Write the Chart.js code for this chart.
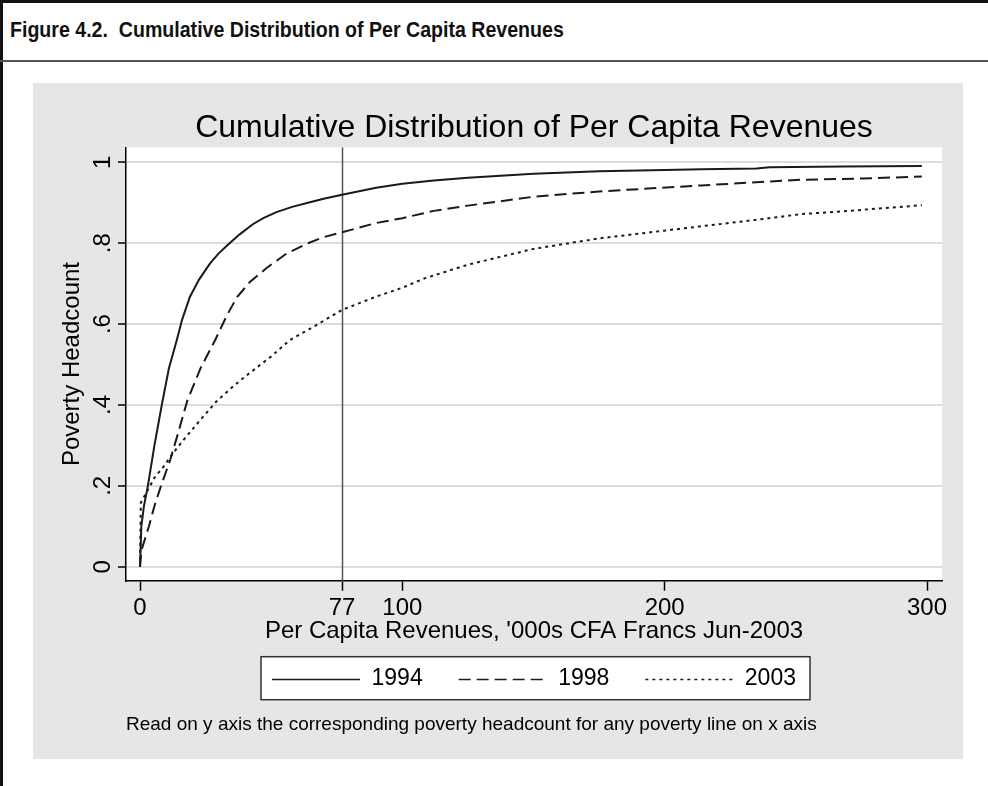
<!DOCTYPE html>
<html>
<head>
<meta charset="utf-8">
<title>Figure 4.2</title>
<script src="https://cdn.jsdelivr.net/npm/chart.js@4.4.0/dist/chart.umd.min.js"></script>
<style>
  html, body { margin: 0; padding: 0; background: #fff; }
  body { position: relative; width: 988px; height: 786px; overflow: hidden; }
  .edge-top { position: absolute; left: 0; top: 0; width: 988px; height: 3px; background: #111; }
  .edge-left { position: absolute; left: 0; top: 0; width: 3px; height: 786px; background: #111; }
  .fig-title {
    position: absolute; left: 10px; top: 17px; margin: 0;
    font-family: "Liberation Sans", Arial, sans-serif;
    font-weight: bold; font-size: 22px; line-height: 26px; color: #111;
    white-space: pre; transform: scaleX(0.89); transform-origin: 0 50%;
  }
  .fig-rule { position: absolute; left: 0; top: 60px; width: 988px; height: 2px; background: #555; }
  .panel { position: absolute; left: 33px; top: 83px; width: 930px; height: 676px; background: #e5e6e8; }
  .panel canvas { display: block; }
</style>
</head>
<body>
<div class="edge-top"></div>
<div class="edge-left"></div>
<h1 class="fig-title">Figure 4.2.  Cumulative Distribution of Per Capita Revenues</h1>
<div class="fig-rule"></div>
<div class="panel"><canvas id="cdf" width="930" height="676"></canvas></div>

<script>
// per capita revenues, '000s CFA francs (Jun-2003 prices)
const x1994 = [0, 0.5, 1.5, 3, 5.5, 8.3, 11, 14, 16, 19, 22.5, 26.7, 30, 33.6, 38, 43, 47, 52, 58, 64, 70, 77, 90, 100, 112, 125, 150, 175, 200, 214, 235, 240, 268, 298];
const y1994 = [0, 0.1, 0.15, 0.2, 0.3, 0.4, 0.49, 0.56, 0.61, 0.667, 0.71, 0.75, 0.775, 0.797, 0.822, 0.847, 0.862, 0.877, 0.89, 0.9, 0.91, 0.92, 0.937, 0.947, 0.955, 0.962, 0.972, 0.978, 0.981, 0.983, 0.985, 0.988, 0.99, 0.991];

const x1998 = [0, 0.5, 3.4, 5.5, 8, 11.5, 14.5, 18, 23, 28.6, 33, 37, 42, 48.5, 56, 64, 70, 77, 90, 100, 112, 125, 150, 175, 188, 214, 252, 275, 298];
const y1998 = [0, 0.04, 0.1, 0.15, 0.2, 0.264, 0.33, 0.41, 0.49, 0.56, 0.62, 0.667, 0.705, 0.74, 0.775, 0.8, 0.815, 0.827, 0.85, 0.862, 0.88, 0.893, 0.915, 0.928, 0.933, 0.943, 0.957, 0.96, 0.965];

const x2003 = [0, 0.3, 3, 5.5, 8.9, 12.5, 16.5, 23, 29, 35, 40, 50, 57, 66, 77, 90, 100, 108, 125, 150, 175, 201, 214, 235, 252, 268, 298];
const y2003 = [0, 0.158, 0.19, 0.22, 0.247, 0.28, 0.313, 0.363, 0.408, 0.443, 0.47, 0.52, 0.56, 0.593, 0.635, 0.668, 0.69, 0.712, 0.747, 0.786, 0.812, 0.832, 0.842, 0.858, 0.872, 0.879, 0.894];

const seriesNames = ['1994', '1998', '2003'];
const povertyLine = 77;

const xTickValues = [0, 77, 100, 200, 300];
const yTickValues = [0, 0.2, 0.4, 0.6, 0.8, 1];
const yTickLabels = ['0', '.2', '.4', '.6', '.8', '1'];

const chartTitle = 'Cumulative Distribution of Per Capita Revenues';
const xTitle = "Per Capita Revenues, '000s CFA Francs Jun-2003";
const yTitle = 'Poverty Headcount';
const noteText = 'Read on y axis the corresponding poverty headcount for any poverty line on x axis';

const toPoints = (xs, ys) => xs.map((x, i) => ({x: x, y: ys[i]}));

const FONT = '"Liberation Sans", Arial, Helvetica, sans-serif';
const INK = '#1a1a1a';
const SAMPLE_W = 88;

// white plot region + white legend box, Stata style
const plotBackground = {
  id: 'plotBackground',
  beforeDraw(chart) {
    const {ctx, chartArea: a, legend} = chart;
    ctx.save();
    ctx.fillStyle = '#fff';
    ctx.fillRect(a.left, a.top, a.right - a.left, a.bottom - a.top);
    const boxes = legend && legend.legendHitBoxes;
    if (boxes && boxes.length) {
      const first = boxes[0], last = boxes[boxes.length - 1];
      const mid = first.top + first.height / 2;
      const l = first.left - 11, r = last.left + last.width + 14;
      const t = mid - 22, b = mid + 21;
      ctx.fillRect(l, t, r - l, b - t);
      ctx.strokeStyle = '#333';
      ctx.lineWidth = 1.5;
      ctx.strokeRect(l, t, r - l, b - t);
    }
    ctx.restore();
  },
  // legend line samples, drawn with each dataset's own dash
  afterDraw(chart) {
    const {ctx, legend} = chart;
    const boxes = legend && legend.legendHitBoxes;
    if (!boxes) return;
    ctx.save();
    boxes.forEach((hb, i) => {
      const ds = chart.data.datasets[i];
      const y = Math.round(hb.top + hb.height / 2) + 0.5;
      ctx.strokeStyle = ds.borderColor;
      ctx.lineWidth = 1.5;
      ctx.setLineDash(ds.borderDash || []);
      ctx.beginPath();
      ctx.moveTo(hb.left, y);
      ctx.lineTo(hb.left + SAMPLE_W, y);
      ctx.stroke();
    });
    ctx.restore();
  }
};

// vertical reference line at the poverty line
const povertyMarker = {
  id: 'povertyMarker',
  beforeDatasetsDraw(chart) {
    const {ctx, chartArea: a, scales} = chart;
    const px = Math.round(scales.x.getPixelForValue(povertyLine)) + 0.5;
    ctx.save();
    ctx.strokeStyle = '#555';
    ctx.lineWidth = 1.5;
    ctx.beginPath();
    ctx.moveTo(px, a.top);
    ctx.lineTo(px, a.bottom);
    ctx.stroke();
    ctx.restore();
  }
};

new Chart(document.getElementById('cdf'), {
  type: 'line',
  data: {
    datasets: [
      { label: seriesNames[0], data: toPoints(x1994, y1994), borderColor: INK, borderWidth: 2, borderDash: [] },
      { label: seriesNames[1], data: toPoints(x1998, y1998), borderColor: INK, borderWidth: 2, borderDash: [12, 6] },
      { label: seriesNames[2], data: toPoints(x2003, y2003), borderColor: INK, borderWidth: 2, borderDash: [3, 4] }
    ]
  },
  options: {
    responsive: false,
    animation: false,
    devicePixelRatio: 1,
    elements: { point: { radius: 0 }, line: { tension: 0, fill: false } },
    layout: { padding: { left: 0, right: 21, top: 0, bottom: 23 } },
    plugins: {
      tooltip: { enabled: false },
      title: {
        display: true, text: chartTitle, fullSize: false, color: '#000',
        font: { family: FONT, size: 32, weight: 'normal' },
        padding: { top: 26, bottom: 0 }
      },
      legend: {
        position: 'bottom', fullSize: false, align: 'center',
        labels: {
          color: '#000', font: { family: FONT, size: 23 },
          usePointStyle: true, pointStyle: 'line', pointStyleWidth: SAMPLE_W, padding: 36,
          // samples are drawn by plotBackground.afterDraw so the dashes show
          generateLabels: chart => Chart.defaults.plugins.legend.labels.generateLabels(chart)
            .map(item => Object.assign(item, { lineWidth: 0, strokeStyle: 'rgba(0,0,0,0)' }))
        }
      },
      subtitle: {
        display: true, text: noteText, position: 'bottom', align: 'start', fullSize: false,
        color: '#000', font: { family: FONT, size: 19, weight: 'normal' },
        padding: { top: 13, bottom: 0 }
      }
    },
    scales: {
      x: {
        type: 'linear', min: -5.34, max: 305.7,
        afterBuildTicks: s => { s.ticks = xTickValues.map(v => ({ value: v })); },
        afterFit: s => { s.height = 50.5; },
        grid: { drawOnChartArea: false, drawTicks: true, tickLength: 10, tickColor: '#000', tickWidth: 1.5 },
        border: { display: true, color: '#000', width: 1.5 },
        ticks: { autoSkip: false, maxRotation: 0, padding: 3, color: '#000', font: { family: FONT, size: 24 } },
        title: { display: true, text: xTitle, color: '#000', font: { family: FONT, size: 24 }, padding: { top: 0, bottom: -15 } }
      },
      y: {
        type: 'linear', min: -0.0346, max: 1.037,
        afterBuildTicks: s => { s.ticks = yTickValues.map(v => ({ value: v })); },
        afterFit: s => { s.width = 93; },
        grid: { color: '#dcdcdc', lineWidth: 2, drawTicks: true, tickLength: 8, tickColor: '#000', tickWidth: 1.5 },
        border: { display: true, color: '#000', width: 1.5 },
        ticks: {
          autoSkip: false, minRotation: 90, maxRotation: 90, crossAlign: 'center', padding: 5,
          color: '#000', font: { family: FONT, size: 24 },
          callback: (v, i) => yTickLabels[i]
        },
        title: { display: true, text: yTitle, color: '#000', font: { family: FONT, size: 24 }, padding: { top: 25, bottom: 0 } }
      }
    }
  },
  plugins: [plotBackground, povertyMarker]
});
</script>
</body>
</html>
